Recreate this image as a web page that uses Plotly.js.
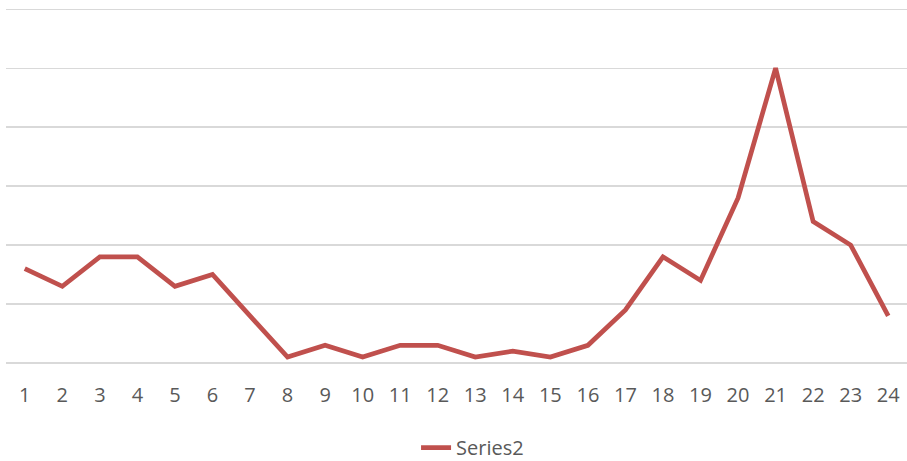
<!DOCTYPE html>
<html>
<head>
<meta charset="utf-8">
<script src="https://cdn.plot.ly/plotly-3.0.1.min.js"></script>
<style>html,body{margin:0;padding:0;background:#fff;}#chart{width:907px;height:461px;}</style>
</head>
<body>
<div id="chart"></div>
<script>
var categories = ["1","2","3","4","5","6","7","8","9","10","11","12","13","14","15","16","17","18","19","20","21","22","23","24"];
var series2 = [1.6, 1.3, 1.8, 1.8, 1.3, 1.5, 0.8, 0.1, 0.3, 0.1, 0.3, 0.3, 0.1, 0.2, 0.1, 0.3, 0.9, 1.8, 1.4, 2.8, 5.0, 2.4, 2.0, 0.8];
var seriesName = "Series2";

var trace = {
  x: categories,
  y: series2,
  type: "scatter",
  mode: "lines",
  name: seriesName,
  line: {color: "#C0504D", width: 4.7, shape: "linear"},
  hoverinfo: "x+y"
};

var layout = {
  width: 907,
  height: 461,
  margin: {l: 6, r: 0, t: 8.3, b: 97.7, pad: 0, autoexpand: false},
  paper_bgcolor: "#ffffff",
  plot_bgcolor: "#ffffff",
  font: {family: "Open Sans, Liberation Sans, sans-serif", color: "#595959", size: 20},
  xaxis: {
    type: "category",
    showgrid: false,
    zeroline: false,
    showline: false,
    ticks: "",
    tickfont: {size: 20, color: "#595959"},
    ticklabelstandoff: 18,
    range: [-0.5, 23.5],
    automargin: false,
    fixedrange: true
  },
  yaxis: {
    range: [0, 6.02],
    tickvals: [0, 1, 2, 3, 4, 5, 6],
    showgrid: true,
    gridcolor: "#D9D9D9",
    gridwidth: 1.3,
    zeroline: true,
    zerolinecolor: "#D9D9D9",
    zerolinewidth: 1.3,
    showticklabels: false,
    ticks: "",
    showline: false,
    automargin: false,
    fixedrange: true
  },
  showlegend: true,
  legend: {
    orientation: "h",
    xref: "container",
    yref: "container",
    x: 0.521,
    xanchor: "center",
    y: 0.029,
    yanchor: "middle",
    font: {size: 20, color: "#595959"},
    bgcolor: "rgba(0,0,0,0)"
  }
};

Plotly.newPlot("chart", [trace], layout, {displayModeBar: false, staticPlot: true});
</script>
</body>
</html>
